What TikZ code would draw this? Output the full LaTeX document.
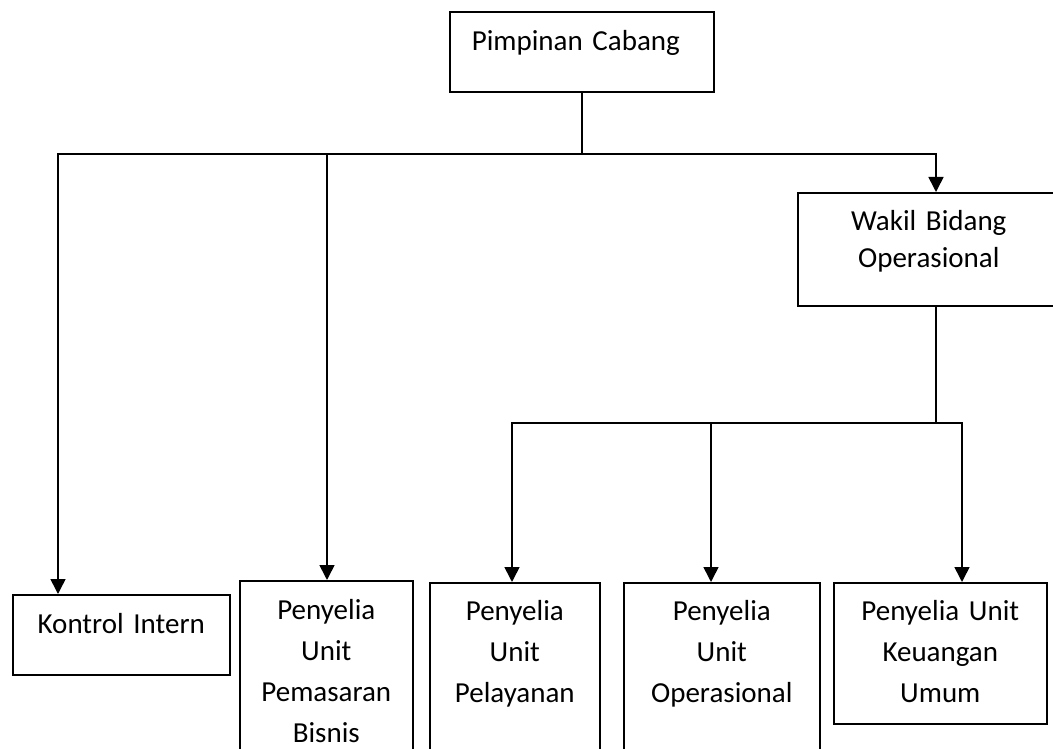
\documentclass[tikz,border=0pt]{standalone}
\usepackage{fontspec}
\setmainfont{Carlito}
\usetikzlibrary{arrows.meta,positioning}

\begin{document}
\begin{tikzpicture}[x=1pt,y=-1pt,->,>={Triangle[width=15pt,length=15pt]},
line width=1.6pt]
\tikzstyle{unit}=[draw,anchor=north west,inner xsep=0pt,inner ysep=0pt,align=center,text height=38pt,font=\fontsize{29}{41}\selectfont]

\useasboundingbox (0,0) rectangle (1053,749);
\clip (0,0) rectangle (1053,749);

\node[unit,align=left,inner xsep=22pt,text width=220pt,text height=39pt,text depth=41pt] (pimpinan) at (449,11) {Pimpinan Cabang};
\node[unit,text width=262pt,text depth=75pt,font=\fontsize{29}{37}\selectfont] (wakil) at (797,192) {Wakil Bidang\\Operasional};
\node[unit,text width=217pt,text height=39pt,text depth=41pt] (kontrol) at (12,594) {Kontrol Intern};
\node[unit,text width=173pt,text height=39pt,text depth=162pt] (pemasaran) at (239,580) {Penyelia\\Unit\\Pemasaran\\Bisnis};
\node[unit,text width=170pt,text depth=160pt] (pelayanan) at (429,582) {Penyelia\\Unit\\Pelayanan};
\node[unit,text width=196pt,text depth=160pt] (operasional) at (623,582) {Penyelia\\Unit\\Operasional};
\node[unit,text width=213pt,text depth=103pt] (keuangan) at (833,582) {Penyelia Unit\\Keuangan\\Umum};

\coordinate (busL) at (58,154);
\coordinate (busM) at (327,154);
\coordinate (busR) at (936,154);
\coordinate (subL) at (512,423);
\coordinate (subM) at (711,423);
\coordinate (subR) at (962,423);

\draw[-] (pimpinan.south) -- (pimpinan.south |- busM);
\draw (busR) -- (busL) -- (busL |- kontrol.north);
\draw (busL) -- (busR) -- (busR |- wakil.north);
\draw (busM) -- (busM |- pemasaran.north);

\draw[-] (wakil.south -| busR) -- (busR |- subR);
\draw (subR) -- (subL) -- (subL |- pelayanan.north);
\draw (subL) -- (subR) -- (subR |- keuangan.north);
\draw (subM) -- (subM |- operasional.north);
\end{tikzpicture}
\end{document}
